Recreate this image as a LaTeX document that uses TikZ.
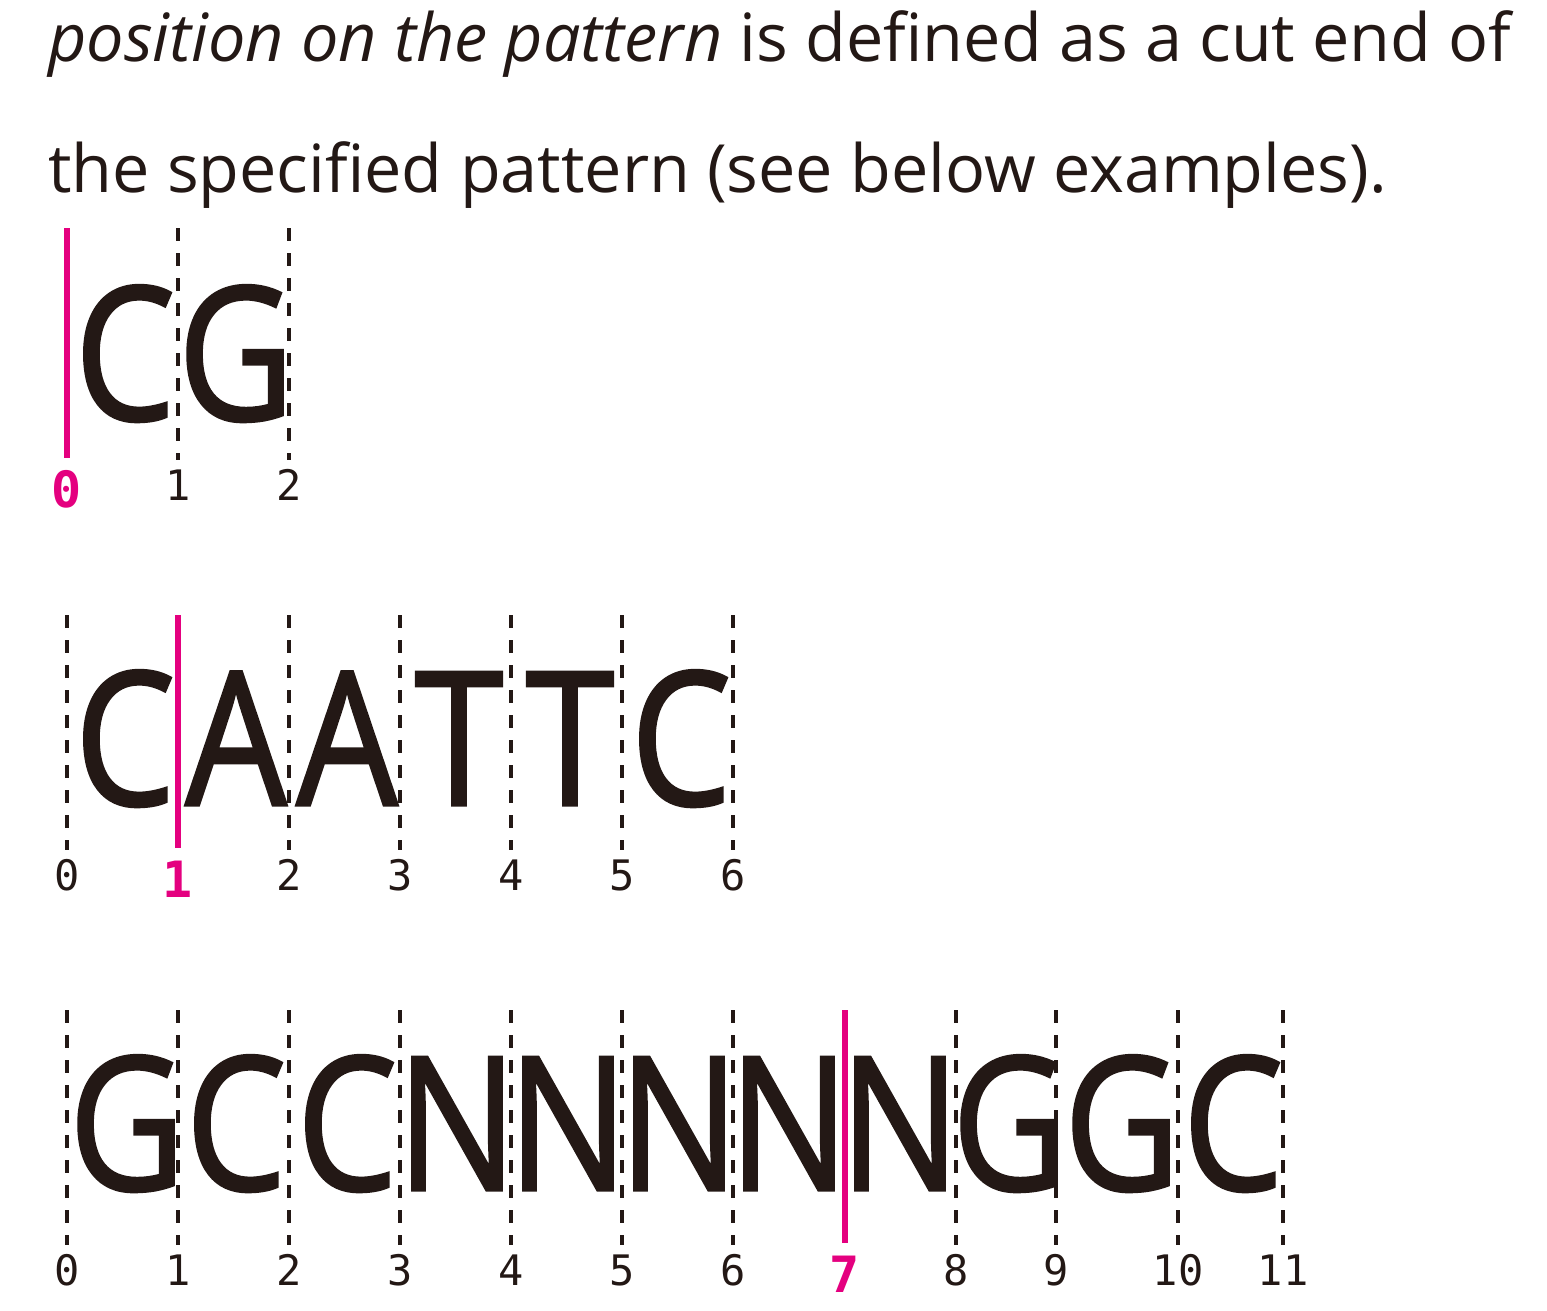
\documentclass[tikz,border=0pt]{standalone}
\usepackage{fontspec}
\setmainfont{Open Sans}
\newfontfamily\seqfont{Open Sans}[FakeBold=1.6]
\newfontfamily\digitfont{DejaVu Sans Mono}
\definecolor{ink}{HTML}{231815}
\definecolor{cutpink}{HTML}{E4007F}
\newcommand{\seqletter}[1]{\scalebox{0.86}[1]{#1}}
\begin{document}
\begin{tikzpicture}[x=1pt,y=-1pt,
  bodytext/.style={anchor=base west,inner sep=0pt,text=ink,font=\fontsize{66.5}{66.5}\selectfont},
  base/.style={anchor=base,inner sep=0pt,text=ink,font=\seqfont\fontsize{186}{186}\selectfont},
  idx/.style={anchor=base,inner sep=0pt,text=ink,font=\digitfont\fontsize{42}{42}\selectfont},
  cutidx/.style={anchor=base,inner sep=0pt,text=cutpink,font=\digitfont\bfseries\fontsize{50}{50}\selectfont},
  sep/.style={draw=ink,line width=3.5pt,dash pattern=on 13pt off 12pt},
  cutline/.style={draw=cutpink,line width=6.5pt}]
\useasboundingbox (0,0) rectangle (1547,1311);
\node[bodytext] (l1) at (48,62) {\textit{position on the pattern} is defined as a cut end of};
\node[bodytext] (l2) at (48,192) {the specified pattern (see below examples).};
% ---------- row 1: CG
\foreach \x/\n in {178/1,289/2}{
  \coordinate (ra\n t) at (\x,228); \coordinate (ra\n b) at (\x,460);
  \draw[sep] (ra\n t) -- (ra\n b);
  \node[idx] (na\n) at (\x,500) {\n};
}
\coordinate (ra0t) at (67,228); \coordinate (ra0b) at (67,458);
\draw[cutline] (ra0t) -- (ra0b);
\node[cutidx] (na0) at (67,507) {0};
\foreach \x/\l/\n in {125/C/1,236/G/2}{
  \node[base] (ba\n) at (\x,420) {\seqletter{\l}};
}
% ---------- row 2: CAATTC
\foreach \x/\n in {67/0,289/2,400/3,511/4,622/5,733/6}{
  \coordinate (rb\n t) at (\x,615); \coordinate (rb\n b) at (\x,850);
  \draw[sep] (rb\n t) -- (rb\n b);
  \node[idx] (nb\n) at (\x,890) {\n};
}
\coordinate (rb1t) at (178,615); \coordinate (rb1b) at (178,848);
\draw[cutline] (rb1t) -- (rb1b);
\node[cutidx] (nb1) at (178,897) {1};
\foreach \x/\l/\n in {125/C/1,236/A/2,347/A/3,459/T/4,570/T/5,681/C/6}{
  \node[base] (bb\n) at (\x,805) {\seqletter{\l}};
}
% ---------- row 3: GCCNNNNNGGC
\foreach \x/\n in {67/0,178/1,289/2,400/3,511/4,622/5,733/6,956/8,1056/9,1178/10,1283/11}{
  \coordinate (rc\n t) at (\x,1010); \coordinate (rc\n b) at (\x,1245);
  \draw[sep] (rc\n t) -- (rc\n b);
  \node[idx] (nc\n) at (\x,1285) {\n};
}
\coordinate (rc7t) at (845,1010); \coordinate (rc7b) at (845,1243);
\draw[cutline] (rc7t) -- (rc7b);
\node[cutidx] (nc7) at (845,1292) {7};
\foreach \x/\l/\n in {127/G/1,236/C/2,347/C/3,457/N/4,568/N/5,679/N/6,789/N/7,900/N/8,1010/G/9,1122/G/10,1233/C/11}{
  \node[base] (bc\n) at (\x,1190) {\seqletter{\l}};
}
\end{tikzpicture}
\end{document}
